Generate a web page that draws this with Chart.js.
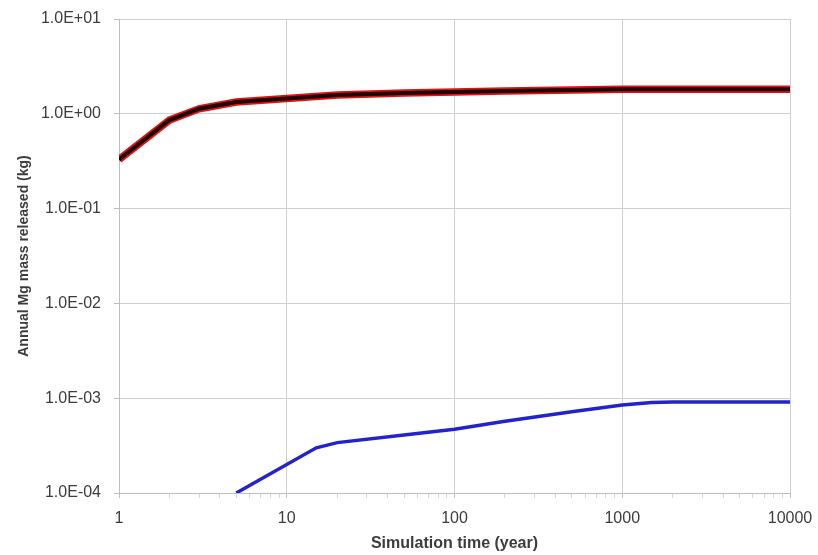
<!DOCTYPE html>
<html><head><meta charset="utf-8">
<script src="https://cdn.jsdelivr.net/npm/chart.js@4/dist/chart.umd.min.js"></script>
<style>html,body{margin:0;padding:0;background:#fff}#wrap{width:818px;height:555px;position:relative}</style>
</head><body><div id="wrap"><canvas id="c"></canvas></div>
<script>
// Simulation time (years) and annual Mg release (kg)
const upperYears  = [1, 2, 3, 5, 10, 20, 50, 100, 200, 500, 1000, 2000, 5000, 10000];
const upperMass   = [0.33, 0.86, 1.13, 1.33, 1.45, 1.58, 1.66, 1.70, 1.74, 1.78, 1.81, 1.82, 1.82, 1.82];
const lowerYears  = [5, 15, 20, 50, 100, 200, 500, 1000, 1500, 2000, 5000, 10000];
const lowerMass   = [1.0e-4, 3.0e-4, 3.4e-4, 4.1e-4, 4.7e-4, 5.7e-4, 7.2e-4, 8.5e-4, 9.0e-4, 9.1e-4, 9.1e-4, 9.1e-4];
const yTickValues = [1e-4, 1e-3, 1e-2, 1e-1, 1e0, 1e1];

const pts = (xs, ys) => xs.map((x, i) => ({x: x, y: ys[i]}));

function sciLabel(v) {
  const e = Math.round(Math.log10(v));
  const m = (v / Math.pow(10, e)).toFixed(1);
  const sign = e < 0 ? '-' : '+';
  return m + 'E' + sign + String(Math.abs(e)).padStart(2, '0');
}
const isDecade = v => Math.abs(Math.log10(v) - Math.round(Math.log10(v))) < 1e-9;

const family = "'Liberation Sans', Arial, sans-serif";
const tickFont = {family: family, size: 16};

new Chart(document.getElementById('c'), {
  type: 'line',
  data: {
    datasets: [
      // first dataset is painted last, so the dark core sits on top of the red band
      {data: pts(upperYears, upperMass), borderColor: '#1e0202', borderWidth: 4, pointRadius: 0, tension: 0},
      {data: pts(upperYears, upperMass), borderColor: '#e01414', borderWidth: 7.5, pointRadius: 0, tension: 0},
      {data: pts(lowerYears, lowerMass), borderColor: '#2323cc', borderWidth: 3.5, pointRadius: 0, tension: 0}
    ]
  },
  options: {
    responsive: true,
    maintainAspectRatio: false,
    animation: false,
    layout: {padding: {top: 19, right: 28, left: 0, bottom: 0}},
    plugins: {legend: {display: false}, tooltip: {enabled: false}},
    scales: {
      x: {
        type: 'logarithmic',
        min: 1, max: 10000,
        afterBuildTicks(scale) {
          const t = [];
          for (let d = 1; d < 10000; d *= 10) for (let k = 1; k < 10; k++) t.push({value: d * k});
          t.push({value: 10000});
          scale.ticks = t;
        },
        afterFit(scale) { scale.height = 62; scale.paddingLeft = 0; scale.paddingRight = 0; },
        border: {color: '#bdbdbd', width: 1},
        grid: {
          color: ctx => (ctx.tick && isDecade(ctx.tick.value)) ? '#cfcfcf' : 'rgba(0,0,0,0)',
          tickColor: ctx => (ctx.tick && isDecade(ctx.tick.value)) ? '#bdbdbd' : '#d6d6d6',
          tickLength: 5,
          lineWidth: 1
        },
        ticks: {
          autoSkip: false, maxRotation: 0, color: '#3c3c3c', font: tickFont, padding: 11,
          callback: v => isDecade(v) ? String(v) : ''
        },
        title: {display: true, text: 'Simulation time (year)', color: '#3c3c3c', font: {family: family, size: 16, weight: 'bold'}, padding: {top: 0, bottom: 2}}
      },
      y: {
        type: 'logarithmic',
        min: 1e-4, max: 10,
        afterBuildTicks(scale) { scale.ticks = yTickValues.map(v => ({value: v})); },
        afterFit(scale) { scale.width = 119; scale.paddingTop = 0; scale.paddingBottom = 0; },
        border: {color: '#bdbdbd', width: 1},
        grid: {color: '#cfcfcf', tickColor: '#bdbdbd', tickLength: 5, lineWidth: 1},
        ticks: {color: '#3c3c3c', font: tickFont, padding: 13, callback: v => sciLabel(v)},
        title: {display: true, text: 'Annual Mg mass released (kg)', color: '#3c3c3c', font: {family: family, size: 14, weight: 'bold'}, padding: {top: 16, bottom: 0}}
      }
    }
  }
});
</script></body></html>
